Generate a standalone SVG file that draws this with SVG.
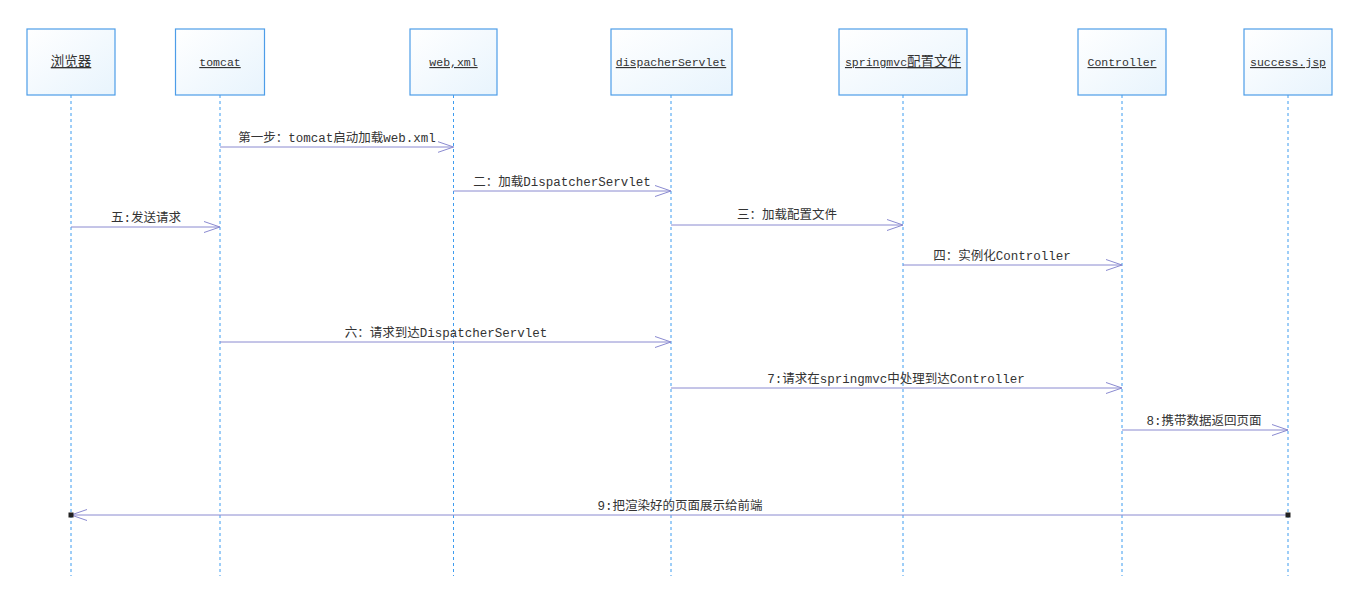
<svg xmlns="http://www.w3.org/2000/svg" width="1352" height="612" viewBox="0 0 1352 612">
<defs>
<linearGradient id="bg" x1="0" y1="0" x2="1" y2="1">
<stop offset="0" stop-color="#ffffff"/>
<stop offset="1" stop-color="#e8f4fd"/>
</linearGradient>
<marker id="arr" markerWidth="18" markerHeight="12" refX="16" refY="6" orient="auto" markerUnits="userSpaceOnUse">
<path d="M0,0.5 L16,6 L0,11.5" fill="none" stroke="#8a8ad0" stroke-width="1"/>
</marker>
</defs>
<style>
.box{fill:url(#bg);stroke:#4d9de8;stroke-width:1.2}
.life{stroke:#3d9cf0;stroke-width:1;stroke-dasharray:3,3}
.hd{font-family:"Liberation Mono","Noto Sans CJK SC",monospace;font-size:11.5px;fill:#333;text-anchor:middle;text-decoration:underline}
.cj{font-size:13.5px}
.msg{stroke:#8a8ad0;stroke-width:1;fill:none}
.lb{font-family:"Liberation Mono","Noto Sans CJK SC",monospace;font-size:12.5px;fill:#333;text-anchor:middle}
</style>
<rect width="1352" height="612" fill="#fff"/>
<g id="lifelines">
<line class="life" x1="71" y1="95" x2="71" y2="576"/>
<line class="life" x1="220" y1="95" x2="220" y2="576"/>
<line class="life" x1="453.5" y1="95" x2="453.5" y2="576"/>
<line class="life" x1="671" y1="95" x2="671" y2="576"/>
<line class="life" x1="903" y1="95" x2="903" y2="576"/>
<line class="life" x1="1122" y1="95" x2="1122" y2="576"/>
<line class="life" x1="1288" y1="95" x2="1288" y2="576"/>
</g>
<g id="browser"><rect class="box" x="27" y="29" width="88" height="66"/><text class="hd cj" x="71" y="66">浏览器</text></g>
<g id="tomcat"><rect class="box" x="175.5" y="29" width="89" height="66"/><text class="hd" x="220" y="66">tomcat</text></g>
<g id="webxml"><rect class="box" x="410" y="29" width="87" height="66"/><text class="hd" x="453.5" y="66">web,xml</text></g>
<g id="dispatcher"><rect class="box" x="611" y="29" width="121" height="66"/><text class="hd" x="671" y="66">dispacherServlet</text></g>
<g id="springmvc"><rect class="box" x="839" y="29" width="128" height="66"/><text class="hd" x="903" y="66">springmvc<tspan class="cj">配置文件</tspan></text></g>
<g id="controller"><rect class="box" x="1078" y="29" width="88" height="66"/><text class="hd" x="1122" y="66">Controller</text></g>
<g id="success"><rect class="box" x="1244" y="29" width="88" height="66"/><text class="hd" x="1288" y="66">success.jsp</text></g>
<g id="connectors">
<line class="msg" x1="220" y1="147" x2="453.5" y2="147" marker-end="url(#arr)"/>
<text class="lb" x="337" y="142">第一步：tomcat启动加载web.xml</text>
<line class="msg" x1="453.5" y1="191" x2="671" y2="191" marker-end="url(#arr)"/>
<text class="lb" x="562" y="186">二：加载DispatcherServlet</text>
<line class="msg" x1="71" y1="227" x2="220" y2="227" marker-end="url(#arr)"/>
<text class="lb" x="146" y="222">五:发送请求</text>
<line class="msg" x1="671" y1="225" x2="903" y2="225" marker-end="url(#arr)"/>
<text class="lb" x="787" y="219">三：加载配置文件</text>
<line class="msg" x1="903" y1="265" x2="1122" y2="265" marker-end="url(#arr)"/>
<text class="lb" x="1002" y="260">四：实例化Controller</text>
<line class="msg" x1="220" y1="342" x2="671" y2="342" marker-end="url(#arr)"/>
<text class="lb" x="446" y="337">六：请求到达DispatcherServlet</text>
<line class="msg" x1="671" y1="388" x2="1122" y2="388" marker-end="url(#arr)"/>
<text class="lb" x="896" y="383">7:请求在springmvc中处理到达Controller</text>
<line class="msg" x1="1122" y1="430" x2="1288" y2="430" marker-end="url(#arr)"/>
<text class="lb" x="1204" y="425">8:携带数据返回页面</text>
<line class="msg" x1="1288" y1="515" x2="71" y2="515" marker-end="url(#arr)"/>
<rect x="68.5" y="512.5" width="5" height="5" fill="#222"/>
<rect x="1285.5" y="512.5" width="5" height="5" fill="#222"/>
<text class="lb" x="680" y="510">9:把渲染好的页面展示给前端</text>
</g>
</svg>
